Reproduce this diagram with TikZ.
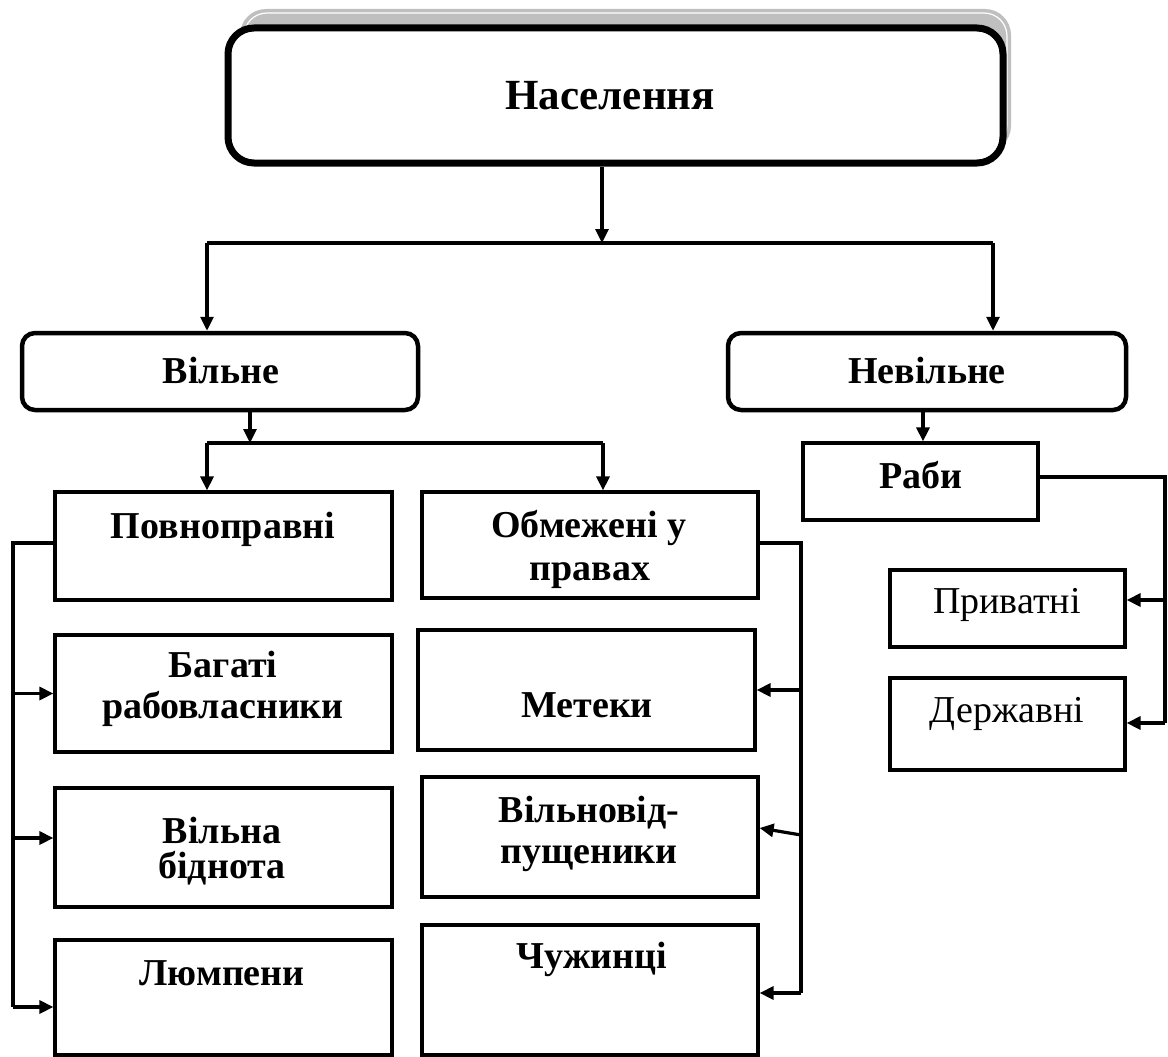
\documentclass[tikz,border=0pt]{standalone}
\usepackage{fontspec}
\setmainfont{Liberation Serif}
\usetikzlibrary{arrows.meta,fit}
\begin{document}
\begin{tikzpicture}[x=1pt,y=-1pt,
  box/.style={draw, line width=3.2pt, inner sep=0pt},
  rbox/.style={draw, line width=4.5pt, rounded corners=13pt, inner sep=0pt},
  tbox/.style={draw, line width=7pt, rounded corners=26pt, inner sep=0pt, fill=white},
  lbl/.style={font=\fontsize{38}{40}\selectfont\bfseries, anchor=base, inner sep=0pt},
  rlbl/.style={font=\fontsize{38}{40}\selectfont, anchor=base, inner sep=0pt},
  conn/.style={line width=3.2pt},
  arr/.style={conn, -{Triangle[length=14pt,width=13pt]}},
]
\useasboundingbox (0,0) rectangle (1168,1057);
% shadow of the top box
\fill[black!25, rounded corners=26pt] (240,9) rectangle (1011,152);
\draw[white, line width=1.2pt, rounded corners=23pt] (244,13) rectangle (1007,148);
% boxes
\node[tbox, fit={(228,28) (1003,163)}] (top) {};
\node[rbox, fit={(22,333) (418,410)}] (vil) {};
\node[rbox, fit={(728,333) (1126,410)}] (nevil) {};
\node[box, fit={(55,492) (392,600)}] (pov) {};
\node[box, fit={(55,635) (392,752)}] (bag) {};
\node[box, fit={(55,788) (392,907)}] (bid) {};
\node[box, fit={(55,940) (392,1055)}] (lum) {};
\node[box, fit={(422,492) (758,598)}] (obm) {};
\node[box, fit={(418,630) (755,750)}] (met) {};
\node[box, fit={(422,777) (758,897)}] (vid) {};
\node[box, fit={(422,925) (758,1055)}] (chu) {};
\node[box, fit={(803,443) (1038,520)}] (rab) {};
\node[box, fit={(890,570) (1125,647)}] (pry) {};
\node[box, fit={(890,678) (1125,770)}] (der) {};
% texts
\node[lbl, font=\fontsize{43}{46}\selectfont\bfseries] (tNas) at (610,110) {Населення};
\node[lbl] (tVil) at (221,383) {Вільне};
\node[lbl] (tNev) at (927,383) {Невільне};
\node[lbl] (tPov) at (223,538) {Повноправні};
\node[lbl] (tBag1) at (223,677) {Багаті};
\node[lbl] (tBag2) at (223,718) {рабовласники};
\node[lbl] (tBid1) at (222,843) {Вільна};
\node[lbl] (tBid2) at (222,878) {біднота};
\node[lbl] (tLum) at (222,985) {Люмпени};
\node[lbl] (tObm1) at (589,537) {Обмежені у};
\node[lbl] (tObm2) at (590,580) {правах};
\node[lbl] (tMet) at (587,717) {Метеки};
\node[lbl] (tVid1) at (589,822) {Вільновід-};
\node[lbl] (tVid2) at (589,863) {пущеники};
\node[lbl] (tChu) at (592,968) {Чужинці};
\node[lbl] (tRab) at (921,488) {Раби};
\node[rlbl] (tPry) at (1007,613) {Приватні};
\node[rlbl] (tDer) at (1007,722) {Державні};
% junction coordinates
\coordinate (j1) at (602,243);
\coordinate (j1L) at (207,243);
\coordinate (j1R) at (993,243);
\coordinate (j2) at (250,443);
\coordinate (j2L) at (207,443);
\coordinate (j2R) at (603,443);
\coordinate (lbT) at (13,543);
\coordinate (lb2) at (13,838);
\coordinate (lbB) at (13,1007);
\coordinate (rbT) at (801,543);
\coordinate (rb2) at (801,835);
\coordinate (rbB) at (801,993);
\coordinate (nv) at (923,443);
\coordinate (rrT) at (1165,477);
\coordinate (rr1) at (1165,600);
\coordinate (rrB) at (1165,723);
% connectors
\draw[arr] (j1 |- top.south) -- (j1);
\draw[conn] (j1L) -- (j1R);
\draw[arr] (j1L) -- (j1L |- vil.north);
\draw[arr] (j1R) -- (j1R |- nevil.north);
\draw[arr] (j2 |- vil.south) -- (j2);
\draw[conn] (j2L) -- (j2R);
\draw[arr] (j2L) -- (j2L |- pov.north);
\draw[arr] (j2R) -- (j2R |- obm.north);
% left bracket
\draw[conn] (lbT -| pov.west) -- (lbT) -- (lbB);
\draw[arr] (lbT |- bag.west) -- (bag.west);
\draw[arr] (lb2) -- (lb2 -| bid.west);
\draw[arr] (lbB) -- (lbB -| lum.west);
% right bracket
\draw[conn] (rbT -| obm.east) -- (rbT) -- (rbB);
\draw[arr] (rbT |- met.east) -- (met.east);
\draw[arr] (rb2) -- ([yshift=9pt]vid.east);
\draw[arr] (rbB) -- (rbB -| chu.east);
% slaves
\draw[arr] (nv |- nevil.south) -- (nv |- rab.north);
\draw[conn] (rrT -| rab.east) -- (rrT) -- (rrB);
\draw[arr] (rr1) -- (rr1 -| pry.east);
\draw[arr] (rrB) -- (rrB -| der.east);
\end{tikzpicture}
\end{document}
